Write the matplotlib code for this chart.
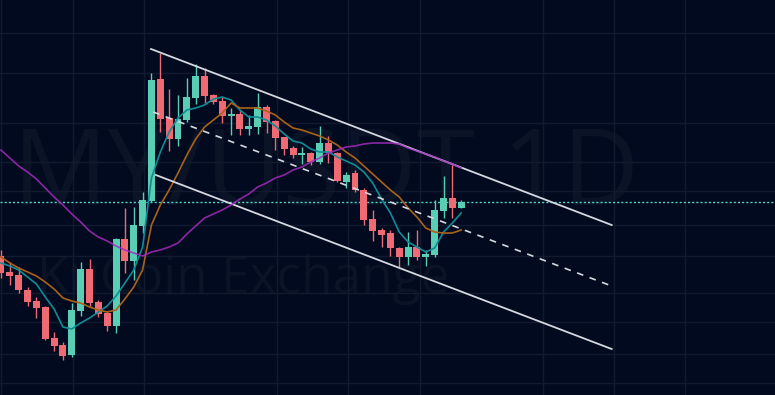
import numpy as np
import matplotlib.pyplot as plt

# daily candles (price in USDT)
opens = [1.44, 1.28, 1.25, 1.10, 0.99, 0.93, 0.62, 0.55, 0.45, 0.89,
         1.31, 0.98, 0.87, 0.74, 1.61, 1.39, 1.74, 1.99, 3.21, 2.82,
         2.61, 2.80, 3.02, 3.24, 3.05, 2.99, 2.84, 2.86, 2.71, 2.73,
         2.93, 2.79, 2.63, 2.52, 2.45, 2.47, 2.38, 2.57, 2.47, 2.18,
         2.27, 2.10, 1.81, 1.70, 1.67, 1.52, 1.43, 1.53, 1.43, 1.45,
         1.89, 2.02, 1.92]
closes = [1.27, 1.24, 1.10, 0.98, 0.92, 0.61, 0.54, 0.44, 0.90, 1.31,
          0.97, 0.86, 0.74, 1.61, 1.39, 1.75, 2.00, 3.20, 2.81, 2.61,
          2.81, 3.03, 3.24, 3.04, 2.98, 2.84, 2.86, 2.71, 2.74, 2.93,
          2.78, 2.62, 2.51, 2.45, 2.47, 2.38, 2.57, 2.47, 2.19, 2.25,
          2.10, 1.80, 1.69, 1.65, 1.52, 1.43, 1.53, 1.43, 1.46, 1.90,
          2.02, 1.92, 1.98]
highs = [1.50, 1.38, 1.33, 1.13, 1.03, 0.94, 0.68, 0.58, 0.97, 1.38,
         1.41, 1.00, 0.89, 1.62, 1.92, 1.93, 2.08, 3.27, 3.47, 3.11,
         3.05, 3.22, 3.36, 3.32, 3.06, 3.03, 2.92, 2.90, 2.85, 3.07,
         2.95, 2.80, 2.63, 2.54, 2.53, 2.48, 2.74, 2.64, 2.48, 2.28,
         2.30, 2.12, 1.90, 1.72, 1.70, 1.53, 1.68, 1.70, 1.50, 2.00,
         2.24, 2.35, 2.00]
lows = [1.22, 1.15, 1.07, 0.94, 0.82, 0.60, 0.49, 0.40, 0.43, 0.84,
        0.93, 0.83, 0.69, 0.67, 1.27, 1.20, 1.67, 1.98, 2.68, 2.49,
        2.54, 2.78, 2.96, 2.97, 2.96, 2.77, 2.65, 2.65, 2.65, 2.66,
        2.67, 2.50, 2.45, 2.42, 2.36, 2.35, 2.36, 2.37, 2.18, 2.12,
        2.08, 1.75, 1.59, 1.53, 1.44, 1.33, 1.35, 1.40, 1.34, 1.43,
        1.82, 1.82, 1.92]

# moving averages as drawn on the chart
ma_fast = [1.37, 1.34, 1.30, 1.23, 1.16, 1.03, 0.91, 0.73, 0.71, 0.77,
           0.82, 0.88, 0.94, 1.04, 1.17, 1.30, 1.53, 2.22, 2.48, 2.68,
           2.82, 2.90, 2.92, 2.95, 3.01, 3.03, 3.00, 2.90, 2.83, 2.83,
           2.80, 2.74, 2.66, 2.59, 2.57, 2.51, 2.48, 2.48, 2.43, 2.39,
           2.35, 2.28, 2.17, 2.01, 1.87, 1.68, 1.58, 1.53, 1.48, 1.52,
           1.68, 1.77, 1.87]
ma_mid = [1.43, 1.37, 1.32, 1.28, 1.24, 1.18, 1.11, 1.02, 0.99, 0.97,
          0.93, 0.90, 0.88, 0.90, 1.01, 1.13, 1.30, 1.75, 1.95, 2.10,
          2.27, 2.45, 2.61, 2.73, 2.80, 2.87, 2.97, 2.92, 2.92, 2.92,
          2.89, 2.85, 2.78, 2.72, 2.70, 2.67, 2.64, 2.60, 2.55, 2.48,
          2.42, 2.34, 2.26, 2.18, 2.10, 2.03, 1.92, 1.83, 1.72, 1.68,
          1.67, 1.67, 1.70]
ma_slow = [2.50, 2.42, 2.34, 2.28, 2.21, 2.12, 2.03, 1.95, 1.86, 1.78,
           1.69, 1.63, 1.59, 1.54, 1.50, 1.47, 1.44, 1.48, 1.50, 1.53,
           1.57, 1.66, 1.74, 1.82, 1.86, 1.90, 1.95, 2.01, 2.06, 2.13,
           2.17, 2.22, 2.25, 2.30, 2.33, 2.38, 2.42, 2.47, 2.50, 2.53,
           2.54, 2.56, 2.57, 2.57, 2.57, 2.56, 2.52, 2.49, 2.46, 2.43,
           2.39, 2.36, 2.32]

# descending channel anchors (bar index, price)
chan_x = [16.95, 69.0]
chan_upper = [3.51, 1.75]
chan_lower_x = [17.5, 69.0]
chan_lower = [2.25, 0.51]
chan_mid_x = [17.2, 69.0]
chan_mid = [2.88, 1.14]

grid_x = [0, 8.14, 16.16, 31.19, 39.21, 47.35, 61.24, 69.27, 77.29]
grid_y = [3.67, 3.27, 2.77, 2.38, 2.09, 1.75, 1.44, 1.07, 0.78, 0.46, 0.17]

bg = '#020a1f'
up_col = '#5acdb5'
down_col = '#ef6a72'

fig = plt.figure(figsize=(7.75, 3.95), dpi=100)
fig.patch.set_facecolor(bg)
ax = fig.add_axes([0, 0, 1, 1])
ax.set_facecolor(bg)
ax.set_xlim(-1 / 8.85, 774 / 8.85)
ax.set_ylim(0.05, 4.00)

ax.set_xticks(grid_x)
ax.set_yticks(grid_y)
ax.grid(True, color='#111a2f', lw=1)
ax.set_axisbelow(True)
ax.tick_params(length=0, labelbottom=False, labelleft=False)
for s in ax.spines.values():
    s.set_visible(False)

# watermark
ax.text(13 / 775, 1 - 205 / 395, 'MY/USDT 1D', transform=ax.transAxes,
        fontsize=76, family='Open Sans', color='#0b1327', va='baseline',
        ha='left', zorder=0.5)
ax.text(37 / 775, 1 - 293 / 395, 'KuCoin Exchange', transform=ax.transAxes,
        fontsize=37, family='Open Sans', color='#0b1327', va='baseline',
        ha='left', zorder=0.5)

o = np.array(opens)
c = np.array(closes)
x = np.arange(len(o))
cols = [up_col if cc >= oo else down_col for oo, cc in zip(o, c)]
body_low = np.minimum(o, c)
body_h = np.maximum(np.abs(c - o), 0.02)

ax.axhline(closes[-1], color='#4fd3c6', lw=1, ls=(0, (1.5, 1.5)), zorder=2)

ax.vlines(x, lows, highs, colors=cols, lw=1, zorder=3)
ax.bar(x, body_h, bottom=body_low, width=0.78, color=cols, lw=0, zorder=4)

ax.plot(x, ma_fast, color='#0f8c96', lw=1.2, zorder=5)
ax.plot(x, ma_mid, color='#a8621a', lw=1.2, zorder=5)

ax.plot(chan_x, chan_upper, color='#d5d8df', lw=1.3, zorder=6)
ax.plot(chan_lower_x, chan_lower, color='#d5d8df', lw=1.3, zorder=6)
ax.plot(chan_mid_x, chan_mid, color='#d5d8df', lw=1.2, ls=(0, (4, 4)), zorder=6)

ax.plot(x, ma_slow, color='#a32bbd', lw=1.2, alpha=0.85, zorder=7)

fig.savefig('out.png', dpi=100, facecolor=bg)
